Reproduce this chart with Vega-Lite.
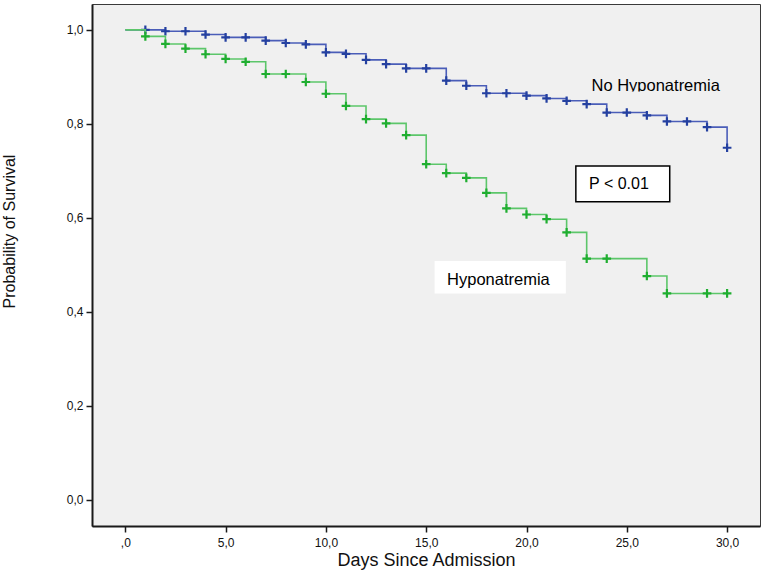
{
  "$schema": "https://vega.github.io/schema/vega-lite/v6.json",
  "autosize": "none",
  "width": 668,
  "height": 522,
  "padding": {"left": 92, "top": 4, "right": 5, "bottom": 47},
  "background": "white",
  "config": {
    "view": {"fill": "#f0f0f0", "stroke": "#3a3a3a", "strokeWidth": 1},
    "axis": {
      "grid": false,
      "domainColor": "#1a1a1a",
      "domainWidth": 2,
      "tickColor": "#1a1a1a",
      "tickWidth": 1.5,
      "tickSize": 6,
      "labelFont": "Liberation Sans",
      "labelFontSize": 12,
      "labelColor": "#111",
      "titleFont": "Liberation Sans",
      "titleFontWeight": "normal",
      "titleColor": "#111"
    }
  },
  "datasets": {
    "curves": [
      {"group": "No Hyponatremia", "day": 0, "surv": 1.0},
      {"group": "No Hyponatremia", "day": 1, "surv": 1.0},
      {"group": "No Hyponatremia", "day": 2, "surv": 0.997},
      {"group": "No Hyponatremia", "day": 3, "surv": 0.997},
      {"group": "No Hyponatremia", "day": 4, "surv": 0.99},
      {"group": "No Hyponatremia", "day": 5, "surv": 0.984},
      {"group": "No Hyponatremia", "day": 6, "surv": 0.984},
      {"group": "No Hyponatremia", "day": 7, "surv": 0.977},
      {"group": "No Hyponatremia", "day": 8, "surv": 0.972},
      {"group": "No Hyponatremia", "day": 9, "surv": 0.969},
      {"group": "No Hyponatremia", "day": 10, "surv": 0.952},
      {"group": "No Hyponatremia", "day": 11, "surv": 0.949},
      {"group": "No Hyponatremia", "day": 12, "surv": 0.936},
      {"group": "No Hyponatremia", "day": 13, "surv": 0.927},
      {"group": "No Hyponatremia", "day": 14, "surv": 0.918},
      {"group": "No Hyponatremia", "day": 15, "surv": 0.918},
      {"group": "No Hyponatremia", "day": 16, "surv": 0.892},
      {"group": "No Hyponatremia", "day": 17, "surv": 0.881},
      {"group": "No Hyponatremia", "day": 18, "surv": 0.865},
      {"group": "No Hyponatremia", "day": 19, "surv": 0.865},
      {"group": "No Hyponatremia", "day": 20, "surv": 0.86},
      {"group": "No Hyponatremia", "day": 21, "surv": 0.854},
      {"group": "No Hyponatremia", "day": 22, "surv": 0.849},
      {"group": "No Hyponatremia", "day": 23, "surv": 0.842},
      {"group": "No Hyponatremia", "day": 24, "surv": 0.824},
      {"group": "No Hyponatremia", "day": 25, "surv": 0.824},
      {"group": "No Hyponatremia", "day": 26, "surv": 0.818},
      {"group": "No Hyponatremia", "day": 27, "surv": 0.805},
      {"group": "No Hyponatremia", "day": 28, "surv": 0.805},
      {"group": "No Hyponatremia", "day": 29, "surv": 0.793},
      {"group": "No Hyponatremia", "day": 30, "surv": 0.749},
      {"group": "Hyponatremia", "day": 0, "surv": 1.0},
      {"group": "Hyponatremia", "day": 1, "surv": 0.986},
      {"group": "Hyponatremia", "day": 2, "surv": 0.97},
      {"group": "Hyponatremia", "day": 3, "surv": 0.96},
      {"group": "Hyponatremia", "day": 4, "surv": 0.948},
      {"group": "Hyponatremia", "day": 5, "surv": 0.938},
      {"group": "Hyponatremia", "day": 6, "surv": 0.932},
      {"group": "Hyponatremia", "day": 7, "surv": 0.906},
      {"group": "Hyponatremia", "day": 8, "surv": 0.906},
      {"group": "Hyponatremia", "day": 9, "surv": 0.889},
      {"group": "Hyponatremia", "day": 10, "surv": 0.864},
      {"group": "Hyponatremia", "day": 11, "surv": 0.838},
      {"group": "Hyponatremia", "day": 12, "surv": 0.81},
      {"group": "Hyponatremia", "day": 13, "surv": 0.801},
      {"group": "Hyponatremia", "day": 14, "surv": 0.776},
      {"group": "Hyponatremia", "day": 15, "surv": 0.714},
      {"group": "Hyponatremia", "day": 16, "surv": 0.695},
      {"group": "Hyponatremia", "day": 17, "surv": 0.685},
      {"group": "Hyponatremia", "day": 18, "surv": 0.653},
      {"group": "Hyponatremia", "day": 19, "surv": 0.62},
      {"group": "Hyponatremia", "day": 20, "surv": 0.607},
      {"group": "Hyponatremia", "day": 21, "surv": 0.597},
      {"group": "Hyponatremia", "day": 22, "surv": 0.569},
      {"group": "Hyponatremia", "day": 23, "surv": 0.513},
      {"group": "Hyponatremia", "day": 24, "surv": 0.513},
      {"group": "Hyponatremia", "day": 26, "surv": 0.476},
      {"group": "Hyponatremia", "day": 27, "surv": 0.439},
      {"group": "Hyponatremia", "day": 29, "surv": 0.439},
      {"group": "Hyponatremia", "day": 30, "surv": 0.439}
    ]
  },
  "encoding": {
    "x": {
      "field": "day",
      "type": "quantitative",
      "scale": {"domain": [-1.66, 31.64], "nice": false, "zero": false},
      "axis": {
        "title": "Days Since Admission",
        "titleFontSize": 18,
        "titlePadding": 3,
        "labelPadding": 5,
        "values": [0, 5, 10, 15, 20, 25, 30],
        "labelExpr": "datum.value === 0 ? ',0' : replace(format(datum.value, '.1f'), '.', ',')"
      }
    },
    "y": {
      "field": "surv",
      "type": "quantitative",
      "scale": {"domain": [-0.056, 1.055], "nice": false, "zero": false},
      "axis": {
        "title": "Probability of Survival",
        "titleFontSize": 16,
        "titlePadding": 49,
        "titleY": 227,
        "labelPadding": 3,
        "values": [0, 0.2, 0.4, 0.6, 0.8, 1.0],
        "labelExpr": "replace(format(datum.value, '.1f'), '.', ',')"
      }
    }
  },
  "layer": [
    {
      "data": {"name": "curves"},
      "transform": [{"filter": "datum.group === 'No Hyponatremia'"}],
      "mark": {"type": "line", "interpolate": "step-after", "color": "#4a5db8", "strokeWidth": 1.6}
    },
    {
      "data": {"name": "curves"},
      "transform": [{"filter": "datum.group === 'No Hyponatremia' && datum.day > 0"}],
      "mark": {"type": "point", "shape": "M-1,0L1,0M0,-1L0,1", "filled": false, "size": 75, "strokeWidth": 2.2, "color": "#2440a0", "opacity": 1}
    },
    {
      "data": {"name": "curves"},
      "transform": [{"filter": "datum.group === 'Hyponatremia'"}],
      "mark": {"type": "line", "interpolate": "step-after", "color": "#5cc66a", "strokeWidth": 1.6}
    },
    {
      "data": {"name": "curves"},
      "transform": [{"filter": "datum.group === 'Hyponatremia' && datum.day > 0"}],
      "mark": {"type": "point", "shape": "M-1,0L1,0M0,-1L0,1", "filled": false, "size": 75, "strokeWidth": 2.2, "color": "#1fae30", "opacity": 1}
    },
    {
      "data": {"values": [{"label": "No Hyponatremia", "day": 23.24, "surv": 0.869}]},
      "mark": {"type": "text", "align": "left", "baseline": "alphabetic", "font": "Liberation Sans", "fontSize": 16.5, "color": "#000"},
      "encoding": {"text": {"field": "label"}}
    },
    {
      "data": {"values": [{"x0": 23.06, "x1": 29.8, "y0": 0.8686, "y1": 0.856}]},
      "mark": {"type": "rect", "fill": "#f0f0f0"},
      "encoding": {
        "x": {"field": "x0", "type": "quantitative"},
        "x2": {"field": "x1"},
        "y": {"field": "y0", "type": "quantitative"},
        "y2": {"field": "y1"}
      }
    },
    {
      "data": {"values": [{"x0": 22.46, "x1": 27.14, "y0": 0.71, "y1": 0.634}]},
      "mark": {"type": "rect", "fill": "white", "stroke": "#000", "strokeWidth": 1.5},
      "encoding": {
        "x": {"field": "x0", "type": "quantitative"},
        "x2": {"field": "x1"},
        "y": {"field": "y0", "type": "quantitative"},
        "y2": {"field": "y1"}
      }
    },
    {
      "data": {"values": [{"label": "P < 0.01", "day": 23.12, "surv": 0.661}]},
      "mark": {"type": "text", "align": "left", "baseline": "alphabetic", "font": "Liberation Sans", "fontSize": 16, "color": "#000"},
      "encoding": {"text": {"field": "label"}}
    },
    {
      "data": {"values": [{"x0": 15.42, "x1": 21.96, "y0": 0.508, "y1": 0.439}]},
      "mark": {"type": "rect", "fill": "white"},
      "encoding": {
        "x": {"field": "x0", "type": "quantitative"},
        "x2": {"field": "x1"},
        "y": {"field": "y0", "type": "quantitative"},
        "y2": {"field": "y1"}
      }
    },
    {
      "data": {"values": [{"label": "Hyponatremia", "day": 16.04, "surv": 0.457}]},
      "mark": {"type": "text", "align": "left", "baseline": "alphabetic", "font": "Liberation Sans", "fontSize": 16.5, "color": "#000"},
      "encoding": {"text": {"field": "label"}}
    }
  ]
}
